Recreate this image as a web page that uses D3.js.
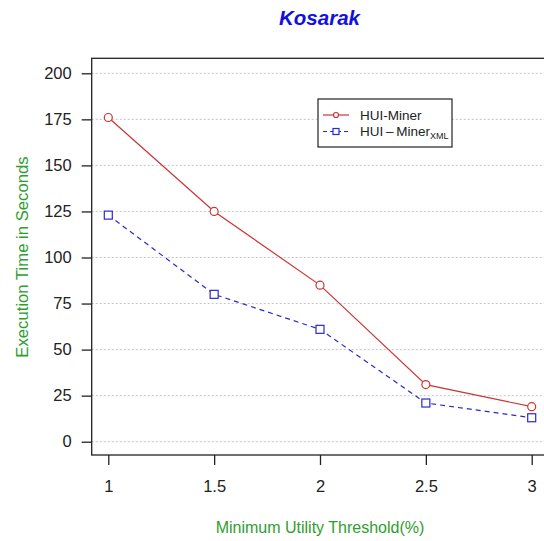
<!DOCTYPE html>
<html>
<head>
<meta charset="utf-8">
<script src="https://cdn.jsdelivr.net/npm/d3@7"></script>
<style>
  body { margin: 0; background: #fff; }
  text { font-family: "Liberation Sans", Arial, sans-serif; }
</style>
</head>
<body>
<script>
// chart values
var thresholds = [1, 1.5, 2, 2.5, 3]
var huiMiner = [176, 125, 85, 31, 19]
var huiMinerXml = [123, 80, 61, 21, 13]
var yTicks = [0, 25, 50, 75, 100, 125, 150, 175, 200]
var xTicks = [1, 1.5, 2, 2.5, 3]

var svg = d3.select("body")
    .append("svg")
    .attr("width", 544)
    .attr("height", 541)

var xscale = d3.scaleLinear()
    .domain([1, 3])
    .range([108.3, 531.7])

var yscale = d3.scaleLinear()
    .domain([0, 200])
    .range([441.7, 73.3])

var plot = {left: 91.7, top: 58.3, right: 560, bottom: 455}

// grid
svg.selectAll("line.grid")
    .data(yTicks)
    .enter()
    .append("line")
    .attr("class", "grid")
    .attr("x1", plot.left)
    .attr("x2", plot.right)
    .attr("y1", function (d) { return yscale(d) })
    .attr("y2", function (d) { return yscale(d) })
    .attr("stroke", "#c4c4c4")
    .attr("stroke-width", 1)
    .attr("stroke-dasharray", "2,2")

// box
svg.append("rect")
    .attr("x", plot.left)
    .attr("y", plot.top)
    .attr("width", plot.right - plot.left)
    .attr("height", plot.bottom - plot.top)
    .attr("fill", "none")
    .attr("stroke", "#222")
    .attr("stroke-width", 1.3)

// y axis
var yAxis = d3.axisLeft(yscale)
    .tickValues(yTicks)
    .tickSize(10)
    .tickPadding(10)

var gy = svg.append("g")
    .attr("transform", "translate(" + plot.left + ",0)")
    .call(yAxis)
gy.select(".domain").remove()
gy.selectAll(".tick line").attr("stroke", "#222").attr("stroke-width", 1.3)
gy.selectAll(".tick text")
    .attr("font-size", 16.5)
    .attr("fill", "#222")
    .style("font-family", "Liberation Sans, Arial, sans-serif")

// x axis
var xAxis = d3.axisBottom(xscale)
    .tickValues(xTicks)
    .tickFormat(function (d) { return d })
    .tickSize(10)
    .tickPadding(15)

var gx = svg.append("g")
    .attr("transform", "translate(0," + plot.bottom + ")")
    .call(xAxis)
gx.select(".domain").remove()
gx.selectAll(".tick line").attr("stroke", "#222").attr("stroke-width", 1.3)
gx.selectAll(".tick text")
    .attr("font-size", 16.5)
    .attr("fill", "#222")
    .style("font-family", "Liberation Sans, Arial, sans-serif")

// titles
svg.append("text")
    .attr("x", 319.5)
    .attr("y", 25)
    .attr("text-anchor", "middle")
    .attr("font-size", 20.5)
    .attr("font-weight", "bold")
    .attr("font-style", "italic")
    .attr("fill", "#1010e0")
    .text("Kosarak")

svg.append("text")
    .attr("x", 320)
    .attr("y", 533)
    .attr("text-anchor", "middle")
    .attr("font-size", 16)
    .attr("fill", "#2e9e2e")
    .text("Minimum Utility Threshold(%)")

svg.append("text")
    .attr("transform", "translate(28,257) rotate(-90)")
    .attr("text-anchor", "middle")
    .attr("font-size", 16.7)
    .attr("fill", "#2e9e2e")
    .text("Execution Time in Seconds")

// series
var line = d3.line()
    .x(function (p) { return xscale(p.x) })
    .y(function (p) { return yscale(p.y) })

var makepoints = function (values)
{
    return values.map(function (v, i)
    {
        var point = {}
        point.x = thresholds[i]
        point.y = v
        return point
    })
}

var redPts = makepoints(huiMiner)
var bluePts = makepoints(huiMinerXml)
var red = "#cc3333"
var blue = "#2a2acc"

svg.append("path")
    .datum(redPts)
    .attr("d", line)
    .attr("fill", "none")
    .attr("stroke", red)
    .attr("stroke-width", 1.2)

svg.append("path")
    .datum(bluePts)
    .attr("d", line)
    .attr("fill", "none")
    .attr("stroke", blue)
    .attr("stroke-width", 1.2)
    .attr("stroke-dasharray", "5,4")

svg.selectAll("circle.red")
    .data(redPts)
    .enter()
    .append("circle")
    .attr("class", "red")
    .attr("cx", function (p) { return xscale(p.x) })
    .attr("cy", function (p) { return yscale(p.y) })
    .attr("r", 4)
    .attr("fill", "#fff")
    .attr("stroke", red)
    .attr("stroke-width", 1.2)

svg.selectAll("rect.blue")
    .data(bluePts)
    .enter()
    .append("rect")
    .attr("class", "blue")
    .attr("x", function (p) { return xscale(p.x) - 4 })
    .attr("y", function (p) { return yscale(p.y) - 4 })
    .attr("width", 8)
    .attr("height", 8)
    .attr("fill", "#fff")
    .attr("stroke", blue)
    .attr("stroke-width", 1.2)

// legend
svg.append("rect")
    .attr("x", 318)
    .attr("y", 99)
    .attr("width", 134)
    .attr("height", 48)
    .attr("fill", "#fff")
    .attr("stroke", "#222")
    .attr("stroke-width", 1.2)

svg.append("line")
    .attr("x1", 323).attr("x2", 349)
    .attr("y1", 115).attr("y2", 115)
    .attr("stroke", red).attr("stroke-width", 1.2)
svg.append("circle")
    .attr("cx", 336).attr("cy", 115).attr("r", 2.5)
    .attr("fill", "#fff").attr("stroke", red).attr("stroke-width", 1.2)
svg.append("text")
    .attr("x", 360).attr("y", 120)
    .attr("font-size", 13.5).attr("fill", "#222")
    .text("HUI-Miner")

svg.append("line")
    .attr("x1", 323).attr("x2", 349)
    .attr("y1", 131.5).attr("y2", 131.5)
    .attr("stroke", blue).attr("stroke-width", 1.2)
    .attr("stroke-dasharray", "4,3")
svg.append("rect")
    .attr("x", 333).attr("y", 128.5).attr("width", 6).attr("height", 6)
    .attr("fill", "#fff").attr("stroke", blue).attr("stroke-width", 1.2)
var t2 = svg.append("text")
    .attr("x", 360).attr("y", 136)
    .attr("font-size", 13.5).attr("fill", "#222")
t2.append("tspan").text("HUI\u2009\u2013\u2009Miner")
t2.append("tspan").attr("font-size", 9).attr("dy", 3).text("XML")
</script>
</body>
</html>
